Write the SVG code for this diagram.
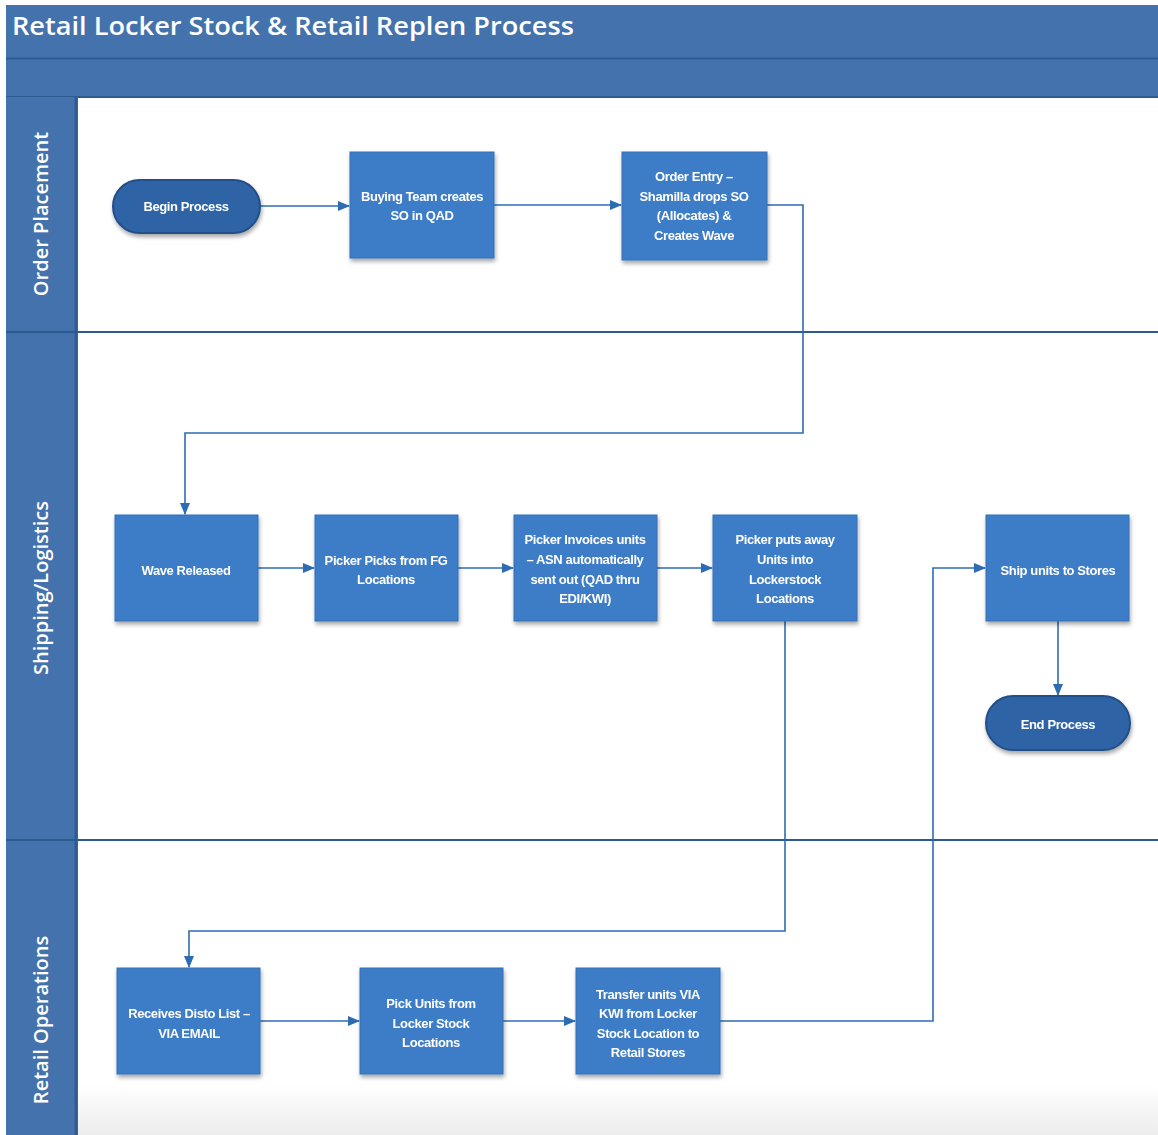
<svg xmlns="http://www.w3.org/2000/svg" width="1158" height="1135" viewBox="0 0 1158 1135">
<defs>
<style>
.box{fill:#3d7bc6;stroke:#3470b8;stroke-width:1}
.term{fill:#2f64a6;stroke:#234f87;stroke-width:2}
.t{font-family:"Liberation Sans",Arial,sans-serif;font-size:13px;font-weight:bold;fill:#ffffff;text-anchor:middle;letter-spacing:-0.4px}
.lane{font-family:"Open Sans","Liberation Sans",sans-serif;font-size:20px;font-weight:600;fill:#ffffff;text-anchor:middle}
.c{fill:none;stroke:#2d6cb3;stroke-width:1.6}
</style>
<filter id="sh" x="-10%" y="-10%" width="125%" height="130%">
<feGaussianBlur in="SourceAlpha" stdDeviation="2"/>
<feOffset dx="1" dy="3" result="b"/>
<feComponentTransfer><feFuncA type="linear" slope="0.35"/></feComponentTransfer>
<feMerge><feMergeNode/><feMergeNode in="SourceGraphic"/></feMerge>
</filter>
<marker id="ar" markerWidth="12" markerHeight="10" refX="11" refY="5" orient="auto" markerUnits="userSpaceOnUse">
<path d="M0,0 L12,5 L0,10 Z" fill="#2d6cb3"/>
</marker>
<linearGradient id="bot" x1="0" y1="0" x2="0" y2="1">
<stop offset="0" stop-color="#ffffff"/>
<stop offset="1" stop-color="#ececec"/>
</linearGradient>
</defs>
<rect width="1158" height="1135" fill="#ffffff"/>
<rect x="78" y="1085" width="1080" height="50" fill="url(#bot)"/>
<!-- header -->
<g id="header">
<rect x="6" y="5" width="1152" height="92" fill="#4472ad"/>
<line x1="6" y1="58.5" x2="1158" y2="58.5" stroke="#2f5c90" stroke-width="2"/>
<line x1="6" y1="97" x2="1158" y2="97" stroke="#2f5c90" stroke-width="2"/>
<text x="12" y="35" font-family="Open Sans,'Liberation Sans',sans-serif" font-size="25" font-weight="600" fill="#ffffff" textLength="562" lengthAdjust="spacingAndGlyphs">Retail Locker Stock &amp; Retail Replen Process</text>
</g>
<!-- lanes -->
<g id="lanes">
<rect x="6" y="97" width="72" height="1038" fill="#4472ad"/>
<line x1="76" y1="97" x2="76" y2="1135" stroke="#2f5c90" stroke-width="3"/>
<line x1="6" y1="332" x2="1158" y2="332" stroke="#2d5a8e" stroke-width="2"/>
<line x1="6" y1="840" x2="1158" y2="840" stroke="#2d5a8e" stroke-width="2"/>
<text class="lane" transform="translate(48,214) rotate(-90)">Order Placement</text>
<text class="lane" transform="translate(48,588) rotate(-90)">Shipping/Logistics</text>
<text class="lane" transform="translate(48,1020) rotate(-90)">Retail Operations</text>
</g>
<!-- connectors -->
<g id="connectors">
<path class="c" d="M260,206 H349" marker-end="url(#ar)"/>
<path class="c" d="M494,205 H621" marker-end="url(#ar)"/>
<path class="c" d="M767,205 H803 V433 H185 V514" marker-end="url(#ar)"/>
<path class="c" d="M258,568 H314" marker-end="url(#ar)"/>
<path class="c" d="M458,568 H513" marker-end="url(#ar)"/>
<path class="c" d="M657,568 H712" marker-end="url(#ar)"/>
<path class="c" d="M785,621 V931 H189 V967" marker-end="url(#ar)"/>
<path class="c" d="M260,1021 H359" marker-end="url(#ar)"/>
<path class="c" d="M503,1021 H575" marker-end="url(#ar)"/>
<path class="c" d="M720,1021 H933 V568 H985" marker-end="url(#ar)"/>
<path class="c" d="M1058,621 V695" marker-end="url(#ar)"/>
</g>
<!-- nodes -->
<g id="begin" filter="url(#sh)">
<rect class="term" x="113" y="180" width="147" height="53" rx="26.5"/>
<text class="t" x="186" y="211">Begin Process</text>
</g>
<g id="buying" filter="url(#sh)">
<rect class="box" x="350" y="152" width="144" height="106"/>
<text class="t" x="422" y="201">Buying Team creates</text>
<text class="t" x="422" y="220">SO in QAD</text>
</g>
<g id="orderentry" filter="url(#sh)">
<rect class="box" x="622" y="152" width="145" height="108"/>
<text class="t" x="694" y="181">Order Entry –</text>
<text class="t" x="694" y="201">Shamilla drops SO</text>
<text class="t" x="694" y="220">(Allocates) &amp;</text>
<text class="t" x="694" y="240">Creates Wave</text>
</g>
<g id="wave" filter="url(#sh)">
<rect class="box" x="115" y="515" width="143" height="106"/>
<text class="t" x="186" y="575">Wave Released</text>
</g>
<g id="picks" filter="url(#sh)">
<rect class="box" x="315" y="515" width="143" height="106"/>
<text class="t" x="386" y="565">Picker Picks from FG</text>
<text class="t" x="386" y="584">Locations</text>
</g>
<g id="invoices" filter="url(#sh)">
<rect class="box" x="514" y="515" width="143" height="106"/>
<text class="t" x="585" y="544">Picker Invoices units</text>
<text class="t" x="585" y="564">– ASN automatically</text>
<text class="t" x="585" y="584">sent out (QAD thru</text>
<text class="t" x="585" y="603">EDI/KWI)</text>
</g>
<g id="putsaway" filter="url(#sh)">
<rect class="box" x="713" y="515" width="144" height="106"/>
<text class="t" x="785" y="544">Picker puts away</text>
<text class="t" x="785" y="564">Units into</text>
<text class="t" x="785" y="584">Lockerstock</text>
<text class="t" x="785" y="603">Locations</text>
</g>
<g id="ship" filter="url(#sh)">
<rect class="box" x="986" y="515" width="143" height="106"/>
<text class="t" x="1058" y="575">Ship units to Stores</text>
</g>
<g id="end" filter="url(#sh)">
<rect class="term" x="986" y="696" width="144" height="54" rx="27"/>
<text class="t" x="1058" y="729">End Process</text>
</g>
<g id="receives" filter="url(#sh)">
<rect class="box" x="117" y="968" width="143" height="106"/>
<text class="t" x="189" y="1018">Receives Disto List –</text>
<text class="t" x="189" y="1038">VIA EMAIL</text>
</g>
<g id="pickunits" filter="url(#sh)">
<rect class="box" x="360" y="968" width="143" height="106"/>
<text class="t" x="431" y="1008">Pick Units from</text>
<text class="t" x="431" y="1028">Locker Stock</text>
<text class="t" x="431" y="1047">Locations</text>
</g>
<g id="transfer" filter="url(#sh)">
<rect class="box" x="576" y="968" width="144" height="106"/>
<text class="t" x="648" y="999">Transfer units VIA</text>
<text class="t" x="648" y="1018">KWI from Locker</text>
<text class="t" x="648" y="1038">Stock Location to</text>
<text class="t" x="648" y="1057">Retail Stores</text>
</g>
</svg>
